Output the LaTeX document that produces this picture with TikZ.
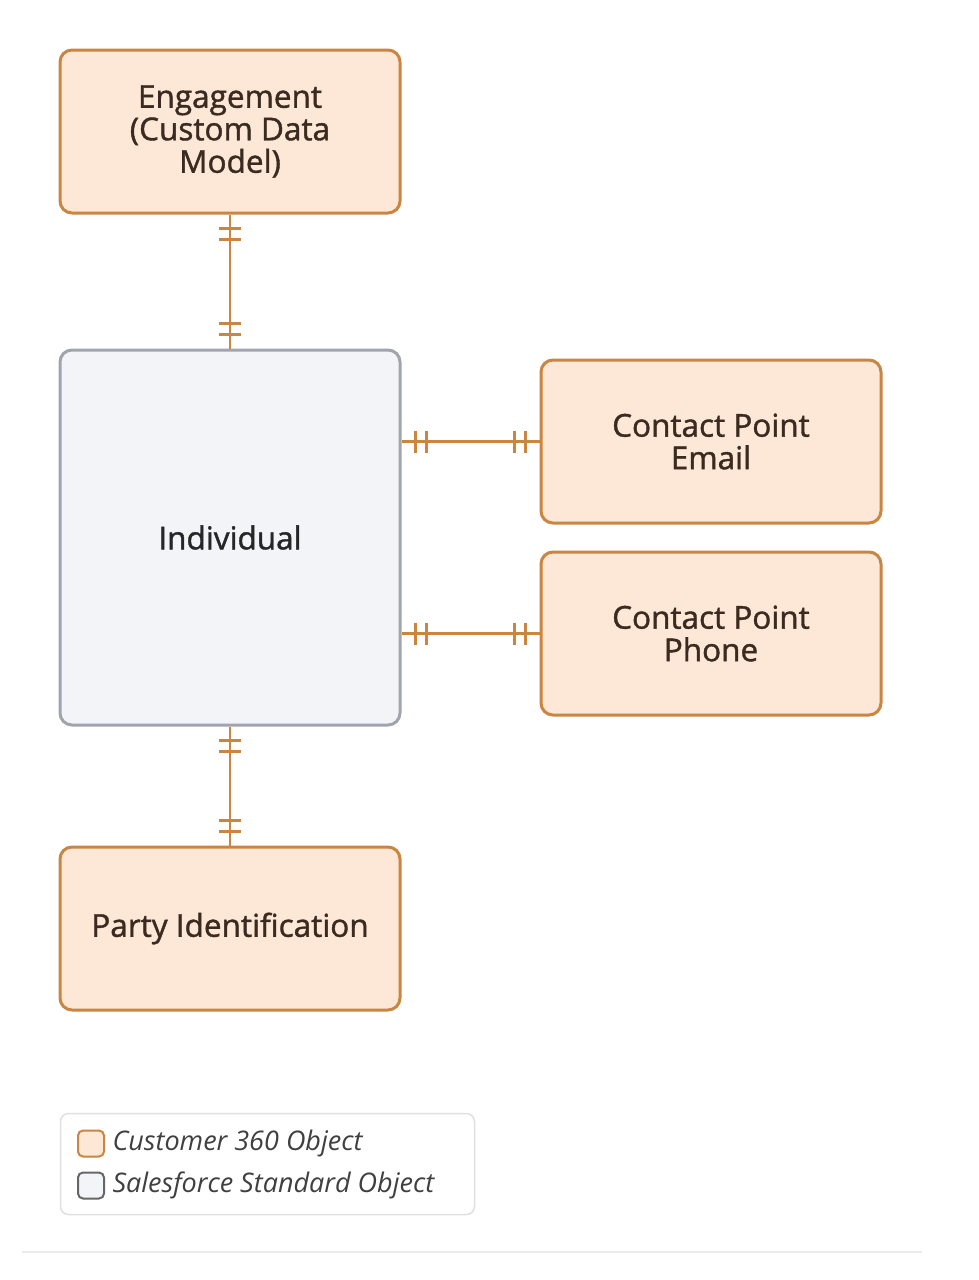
\documentclass[tikz,border=0pt]{standalone}
\usepackage{fontspec}
\setmainfont{Open Sans}
\newfontfamily\boxfont[FakeBold=1.2]{Open Sans}
\usetikzlibrary{calc}

\definecolor{cfill}{RGB}{253,231,214}
\definecolor{cline}{RGB}{200,134,66}
\definecolor{sfill}{RGB}{243,244,248}
\definecolor{sline}{RGB}{160,164,172}
\definecolor{ctext}{RGB}{58,42,32}

\tikzset{
    c360/.style={draw=cline, fill=cfill, line width=3pt, rounded corners=12pt,
        minimum width=340pt, minimum height=163pt, align=center, text=ctext,
        font=\boxfont\fontsize{31.5}{32.5}\selectfont},
    sfobj/.style={c360, draw=sline, fill=sfill, minimum height=375pt, text=black!85},
    link/.style={draw=cline, line width=2.5pt},
    keybox/.style={rounded corners=5pt, line width=2pt, minimum size=26pt},
    keytext/.style={right=4pt, font=\fontsize{27}{30}\selectfont\itshape, text=black!75},
}

\begin{document}
\begin{tikzpicture}[x=1pt, y=-1pt]
    \useasboundingbox (0,0) rectangle (978,1280);

    \node[c360] (engage) at (230,131.5) {Engagement\\(Custom Data\\Model)};
    \node[sfobj] (indiv) at (230,537.5) {Individual};
    \node[c360] (email) at (711,441.5) {Contact Point\\Email};
    \node[c360] (phone) at (711,633.5) {Contact Point\\Phone};
    \node[c360] (party) at (230,928.5) {Party Identification};

    % connectors
    \draw[link] (engage) -- (indiv);
    \draw[link] (indiv) -- (party);
    \draw[link] (indiv.east |- email) -- (email);
    \draw[link] (indiv.east |- phone) -- (phone);

    % one-and-only-one ticks
    \foreach \d in {14,25} {
        \draw[link] ($(engage.south)+(-11,\d)$) -- ++(22,0);
        \draw[link] ($(indiv.north)+(-11,-\d)$) -- ++(22,0);
        \draw[link] ($(indiv.south)+(-11,\d)$) -- ++(22,0);
        \draw[link] ($(party.north)+(-11,-\d)$) -- ++(22,0);
        \draw[link] ($(indiv.east |- email)+(\d,-11)$) -- ++(0,22);
        \draw[link] ($(email.west)+(-\d,-11)$) -- ++(0,22);
        \draw[link] ($(indiv.east |- phone)+(\d,-11)$) -- ++(0,22);
        \draw[link] ($(phone.west)+(-\d,-11)$) -- ++(0,22);
    }

    % legend
    \node[draw=black!12, line width=1.5pt, rounded corners=8pt, fill=white,
        minimum width=414pt, minimum height=101pt] (legend) at (267.5,1164) {};
    \node[keybox, draw=cline, fill=cfill] (key1) at (91,1143.5) {};
    \node[keybox, draw=black!60, fill=sfill] (key2) at (91,1185.5) {};
    \node[keytext] at (key1.east) {Customer 360 Object};
    \node[keytext] at (key2.east) {Salesforce Standard Object};

    \draw[black!8, line width=1.5pt] (22,1252) -- (922,1252);
\end{tikzpicture}
\end{document}
